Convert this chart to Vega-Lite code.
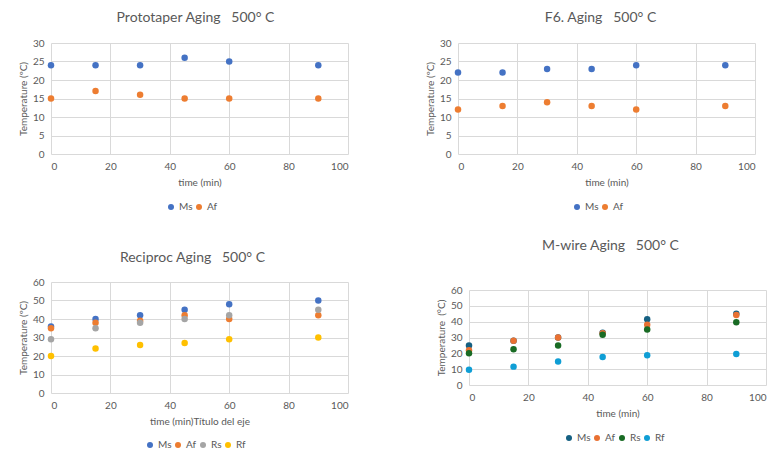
{
  "$schema": "https://vega.github.io/schema/vega-lite/v6.json",
  "background": "white",
  "padding": {"left": 18, "top": 11, "right": 5, "bottom": 5},
  "bounds": "flush",
  "spacing": 239,
  "resolve": {"scale": {"color": "independent", "x": "independent", "y": "independent"}, "legend": {"color": "independent"}},
  "vconcat": [
    {
      "hconcat": [
        {
          "title": {"text": "Prototaper Aging\u00a0\u00a0\u00a0500° C", "offset": 13, "dx": -4},
          "width": 297, "height": 111,
          "data": {"values": [
            {"time": 0, "temp": 24, "series": "Ms"}, {"time": 15, "temp": 24, "series": "Ms"}, {"time": 30, "temp": 24, "series": "Ms"},
            {"time": 45, "temp": 26, "series": "Ms"}, {"time": 60, "temp": 25, "series": "Ms"}, {"time": 90, "temp": 24, "series": "Ms"},
            {"time": 0, "temp": 15, "series": "Af"}, {"time": 15, "temp": 17, "series": "Af"}, {"time": 30, "temp": 16, "series": "Af"},
            {"time": 45, "temp": 15, "series": "Af"}, {"time": 60, "temp": 15, "series": "Af"}, {"time": 90, "temp": 15, "series": "Af"}
          ]},
          "mark": {"type": "circle", "size": 42, "opacity": 1},
          "encoding": {
            "x": {"field": "time", "type": "quantitative", "scale": {"domain": [0, 100], "nice": false}, "axis": {"values": [0, 20, 40, 60, 80, 100], "title": "time (min)"}},
            "y": {"field": "temp", "type": "quantitative", "scale": {"domain": [0, 30], "nice": false}, "axis": {"values": [0, 5, 10, 15, 20, 25, 30], "title": "Temperature (ºC)"}},
            "color": {"field": "series", "type": "nominal", "scale": {"domain": ["Ms", "Af"], "range": ["#4472C4", "#ED7D31"]},
              "legend": {"orient": "none", "legendX": 115, "legendY": 159}}
          }
        },
        {
          "title": {"text": "F6. Aging\u00a0\u00a0\u00a0500° C", "offset": 13, "dx": -6},
          "width": 297, "height": 111,
          "data": {"values": [
            {"time": 0, "temp": 22, "series": "Ms"}, {"time": 15, "temp": 22, "series": "Ms"}, {"time": 30, "temp": 23, "series": "Ms"},
            {"time": 45, "temp": 23, "series": "Ms"}, {"time": 60, "temp": 24, "series": "Ms"}, {"time": 90, "temp": 24, "series": "Ms"},
            {"time": 0, "temp": 12, "series": "Af"}, {"time": 15, "temp": 13, "series": "Af"}, {"time": 30, "temp": 14, "series": "Af"},
            {"time": 45, "temp": 13, "series": "Af"}, {"time": 60, "temp": 12, "series": "Af"}, {"time": 90, "temp": 13, "series": "Af"}
          ]},
          "mark": {"type": "circle", "size": 42, "opacity": 1},
          "encoding": {
            "x": {"field": "time", "type": "quantitative", "scale": {"domain": [0, 100], "nice": false}, "axis": {"values": [0, 20, 40, 60, 80, 100], "title": "time (min)"}},
            "y": {"field": "temp", "type": "quantitative", "scale": {"domain": [0, 30], "nice": false}, "axis": {"values": [0, 5, 10, 15, 20, 25, 30], "title": "Temperature (ºC)"}},
            "color": {"field": "series", "type": "nominal", "scale": {"domain": ["Ms", "Af"], "range": ["#4472C4", "#ED7D31"]},
              "legend": {"orient": "none", "legendX": 114, "legendY": 159}}
          }
        }
      ],
      "spacing": 110,
      "bounds": "flush",
      "resolve": {"scale": {"color": "independent", "x": "independent", "y": "independent"}, "legend": {"color": "independent"}}
    },
    {
      "hconcat": [
        {
          "title": {"text": "Reciproc Aging\u00a0\u00a0\u00a0500° C", "offset": 12, "dx": -7},
          "width": 297, "height": 111,
          "data": {"values": [
            {"time": 0, "temp": 36, "series": "Ms"}, {"time": 15, "temp": 40, "series": "Ms"}, {"time": 30, "temp": 42, "series": "Ms"},
            {"time": 45, "temp": 45, "series": "Ms"}, {"time": 60, "temp": 48, "series": "Ms"}, {"time": 90, "temp": 50, "series": "Ms"},
            {"time": 0, "temp": 35, "series": "Af"}, {"time": 15, "temp": 38, "series": "Af"}, {"time": 30, "temp": 39, "series": "Af"},
            {"time": 45, "temp": 42, "series": "Af"}, {"time": 60, "temp": 40, "series": "Af"}, {"time": 90, "temp": 42, "series": "Af"},
            {"time": 0, "temp": 29, "series": "Rs"}, {"time": 15, "temp": 35, "series": "Rs"}, {"time": 30, "temp": 38, "series": "Rs"},
            {"time": 45, "temp": 40, "series": "Rs"}, {"time": 60, "temp": 42, "series": "Rs"}, {"time": 90, "temp": 45, "series": "Rs"},
            {"time": 0, "temp": 20, "series": "Rf"}, {"time": 15, "temp": 24, "series": "Rf"}, {"time": 30, "temp": 26, "series": "Rf"},
            {"time": 45, "temp": 27, "series": "Rf"}, {"time": 60, "temp": 29, "series": "Rf"}, {"time": 90, "temp": 30, "series": "Rf"}
          ]},
          "mark": {"type": "circle", "size": 42, "opacity": 1},
          "encoding": {
            "x": {"field": "time", "type": "quantitative", "scale": {"domain": [0, 100], "nice": false}, "axis": {"values": [0, 20, 40, 60, 80, 100], "title": "time (min)Título del eje"}},
            "y": {"field": "temp", "type": "quantitative", "scale": {"domain": [0, 60], "nice": false}, "axis": {"values": [0, 10, 20, 30, 40, 50, 60], "title": "Temperature (ºC)"}},
            "color": {"field": "series", "type": "nominal", "scale": {"domain": ["Ms", "Af", "Rs", "Rf"], "range": ["#4472C4", "#ED7D31", "#A5A5A5", "#FFC000"]},
              "legend": {"orient": "none", "legendX": 94, "legendY": 158}}
          }
        },
        {
          "title": {"text": "M-wire Aging\u00a0\u00a0\u00a0500° C", "offset": 32, "dx": -7},
          "width": 297, "height": 95,
          "data": {"values": [
            {"time": 0, "temp": 25, "series": "Ms"}, {"time": 15, "temp": 28, "series": "Ms"}, {"time": 30, "temp": 30, "series": "Ms"},
            {"time": 45, "temp": 33, "series": "Ms"}, {"time": 60, "temp": 41.6, "series": "Ms"}, {"time": 90, "temp": 45, "series": "Ms"},
            {"time": 0, "temp": 22, "series": "Af"}, {"time": 15, "temp": 28, "series": "Af"}, {"time": 30, "temp": 30, "series": "Af"},
            {"time": 45, "temp": 32.7, "series": "Af"}, {"time": 60, "temp": 38, "series": "Af"}, {"time": 90, "temp": 44.2, "series": "Af"},
            {"time": 0, "temp": 20, "series": "Rs"}, {"time": 15, "temp": 22.6, "series": "Rs"}, {"time": 30, "temp": 25, "series": "Rs"},
            {"time": 45, "temp": 31.7, "series": "Rs"}, {"time": 60, "temp": 35, "series": "Rs"}, {"time": 90, "temp": 39.7, "series": "Rs"},
            {"time": 0, "temp": 9.7, "series": "Rf"}, {"time": 15, "temp": 11.6, "series": "Rf"}, {"time": 30, "temp": 14.8, "series": "Rf"},
            {"time": 45, "temp": 17.7, "series": "Rf"}, {"time": 60, "temp": 18.8, "series": "Rf"}, {"time": 90, "temp": 19.6, "series": "Rf"}
          ]},
          "mark": {"type": "circle", "size": 42, "opacity": 1},
          "encoding": {
            "x": {"field": "time", "type": "quantitative", "scale": {"domain": [0, 100], "nice": false}, "axis": {"values": [0, 20, 40, 60, 80, 100], "title": "time (min)"}},
            "y": {"field": "temp", "type": "quantitative", "scale": {"domain": [0, 60], "nice": false}, "axis": {"values": [0, 10, 20, 30, 40, 50, 60], "title": "Temperature\u00a0\u00a0(°C)"}},
            "color": {"field": "series", "type": "nominal", "scale": {"domain": ["Ms", "Af", "Rs", "Rf"], "range": ["#156082", "#E97132", "#196B24", "#0F9ED5"]},
              "legend": {"orient": "none", "legendX": 95, "legendY": 143}}
          }
        }
      ],
      "spacing": 121,
      "bounds": "flush",
      "center": true,
      "resolve": {"scale": {"color": "independent", "x": "independent", "y": "independent"}, "legend": {"color": "independent"}}
    }
  ],
  "config": {
    "font": "Lato",
    "view": {"stroke": null},
    "axis": {"domain": false, "ticks": false, "grid": true, "gridColor": "#d9d9d9", "gridWidth": 1,
      "labelColor": "#595959", "titleColor": "#595959", "labelFont": "Lato", "titleFont": "Lato",
      "labelFontSize": 10, "titleFontSize": 10, "titleFontWeight": "normal", "labelPadding": 7, "titlePadding": 4},
    "axisX": {"titlePadding": 6},
    "title": {"font": "Lato", "fontSize": 14, "fontWeight": "normal", "color": "#595959", "frame": "group", "anchor": "middle"},
    "legend": {"direction": "horizontal", "title": null, "symbolType": "circle", "symbolSize": 36, "labelFontSize": 10,
      "labelColor": "#595959", "labelFont": "Lato", "labelOffset": 3, "columnPadding": 1, "gridAlign": "none", "symbolStrokeWidth": 0}
  }
}
